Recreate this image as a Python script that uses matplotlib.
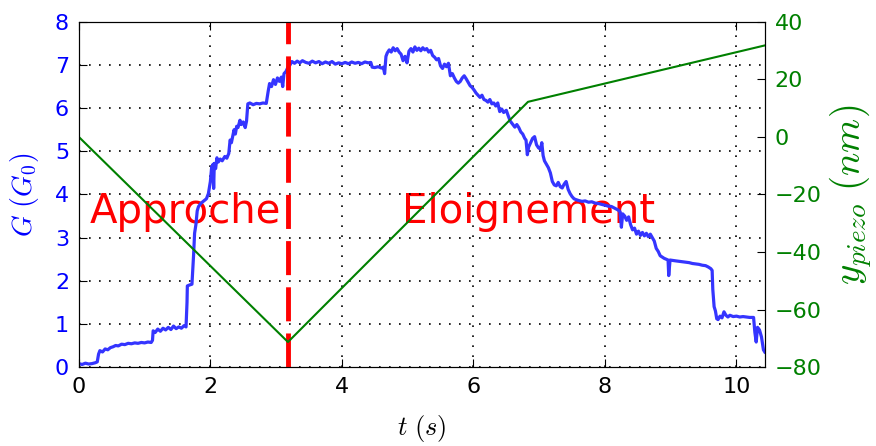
import matplotlib
matplotlib.use('Agg')
import matplotlib.pyplot as plt

plt.rcParams['mathtext.fontset'] = 'cm'

# conductance trace
t = [0.00, 0.05, 0.10, 0.15, 0.20, 0.25, 0.28, 0.30, 0.32, 0.36, 0.40, 0.44, 0.48, 0.52,
     0.56, 0.60, 0.65, 0.70, 0.75, 0.80, 0.85, 0.90, 0.95, 1.00, 1.05, 1.10, 1.12, 1.13,
     1.16, 1.20, 1.24, 1.28, 1.32, 1.36, 1.40, 1.44, 1.48, 1.52, 1.56, 1.60, 1.63, 1.645,
     1.65, 1.68, 1.72, 1.745, 1.76, 1.78, 1.80, 1.82, 1.86, 1.90, 1.94, 1.97, 2.00, 2.02,
     2.03, 2.04, 2.05, 2.06, 2.08, 2.10, 2.12, 2.15, 2.18, 2.22, 2.25, 2.28, 2.30, 2.32,
     2.34, 2.36, 2.38, 2.40, 2.42, 2.45, 2.47, 2.50, 2.53, 2.55, 2.57, 2.60, 2.65, 2.70,
     2.75, 2.80, 2.85, 2.88, 2.90, 2.93, 2.96, 2.99, 3.02, 3.05, 3.08, 3.10, 3.12, 3.15,
     3.18, 3.21, 3.24, 3.28, 3.32, 3.36, 3.40, 3.45, 3.50, 3.55, 3.60, 3.65, 3.70, 3.75,
     3.80, 3.85, 3.90, 3.95, 4.00, 4.05, 4.10, 4.15, 4.20, 4.25, 4.30, 4.35, 4.40, 4.44,
     4.46, 4.50, 4.55, 4.60, 4.63, 4.65, 4.67, 4.69, 4.72, 4.75, 4.78, 4.81, 4.84, 4.87,
     4.90, 4.93, 4.96, 4.99, 5.02, 5.05, 5.08, 5.11, 5.14, 5.17, 5.20, 5.23, 5.26, 5.29,
     5.32, 5.35, 5.38, 5.41, 5.44, 5.47, 5.50, 5.53, 5.56, 5.59, 5.62, 5.65, 5.68, 5.71,
     5.74, 5.77, 5.80, 5.83, 5.86, 5.89, 5.92, 5.95, 5.98, 6.01, 6.04, 6.07, 6.10, 6.13,
     6.16, 6.19, 6.22, 6.25, 6.28, 6.31, 6.34, 6.37, 6.40, 6.43, 6.46, 6.50, 6.53, 6.56,
     6.60, 6.63, 6.66, 6.69, 6.72, 6.75, 6.78, 6.80, 6.82, 6.84, 6.87, 6.90, 6.93, 6.96,
     6.99, 7.02, 7.04, 7.06, 7.08, 7.11, 7.14, 7.17, 7.20, 7.23, 7.26, 7.29, 7.32, 7.35,
     7.38, 7.41, 7.44, 7.47, 7.50, 7.53, 7.56, 7.60, 7.65, 7.70, 7.75, 7.80, 7.85, 7.90,
     7.95, 8.00, 8.05, 8.10, 8.15, 8.20, 8.23, 8.25, 8.27, 8.30, 8.33, 8.36, 8.39, 8.42,
     8.45, 8.48, 8.51, 8.54, 8.57, 8.60, 8.63, 8.66, 8.69, 8.72, 8.75, 8.78, 8.81, 8.84,
     8.87, 8.90, 8.93, 8.96, 8.97, 8.99, 9.03, 9.08, 9.13, 9.18, 9.23, 9.28, 9.33, 9.38,
     9.43, 9.48, 9.53, 9.57, 9.61, 9.63, 9.64, 9.66, 9.68, 9.70, 9.72, 9.75, 9.78, 9.81,
     9.84, 9.87, 9.90, 9.95, 10.00, 10.05, 10.10, 10.15, 10.20, 10.26, 10.28, 10.30, 10.32,
     10.35, 10.38, 10.41, 10.43]
G = [0.08, 0.06, 0.09, 0.07, 0.08, 0.10, 0.12, 0.30, 0.38, 0.35, 0.42, 0.40, 0.45, 0.47,
     0.50, 0.49, 0.53, 0.52, 0.55, 0.54, 0.56, 0.55, 0.57, 0.56, 0.58, 0.57, 0.62, 0.84,
     0.80, 0.88, 0.83, 0.90, 0.86, 0.92, 0.87, 0.95, 0.89, 0.93, 0.90, 0.96, 0.93, 1.50,
     1.88, 1.90, 1.92, 2.60, 3.10, 3.30, 3.62, 3.72, 3.80, 3.85, 3.90, 4.02, 4.30, 4.64,
     4.40, 4.70, 4.14, 4.72, 4.60, 4.85, 4.75, 4.82, 4.78, 4.88, 4.84, 4.95, 5.26, 5.20,
     5.35, 5.50, 5.40, 5.58, 5.55, 5.72, 5.62, 5.68, 5.55, 5.70, 6.10, 6.12, 6.08, 6.11,
     6.10, 6.12, 6.11, 6.40, 6.57, 6.50, 6.66, 6.55, 6.70, 6.62, 6.72, 6.50, 6.80, 6.85,
     6.95, 7.00, 7.08, 7.04, 7.09, 7.05, 7.10, 7.06, 7.04, 7.09, 7.05, 7.08, 7.03, 7.07,
     7.04, 7.08, 7.02, 7.05, 7.03, 7.06, 7.03, 7.07, 7.04, 7.06, 7.03, 7.07, 7.05, 7.06,
     6.95, 6.94, 6.96, 6.93, 6.95, 6.80, 7.20, 7.28, 7.35, 7.30, 7.40, 7.33, 7.38, 7.30,
     7.25, 7.10, 7.20, 7.05, 7.32, 7.38, 7.30, 7.42, 7.34, 7.39, 7.33, 7.40, 7.35, 7.38,
     7.30, 7.34, 7.22, 7.18, 7.12, 7.15, 6.98, 6.92, 7.02, 6.96, 7.04, 6.75, 6.80, 6.70,
     6.62, 6.58, 6.62, 6.70, 6.75, 6.68, 6.60, 6.52, 6.48, 6.42, 6.35, 6.30, 6.25, 6.30,
     6.20, 6.18, 6.14, 6.20, 6.10, 6.12, 6.05, 6.12, 5.92, 5.98, 5.90, 5.95, 5.82, 5.70,
     5.62, 5.56, 5.62, 5.55, 5.45, 5.40, 5.30, 5.26, 4.92, 5.10, 5.20, 5.30, 5.34, 5.15,
     5.08, 5.05, 5.20, 4.90, 4.78, 4.70, 4.62, 4.50, 4.30, 4.22, 4.20, 4.28, 4.18, 4.15,
     4.24, 4.30, 4.12, 4.02, 3.95, 3.90, 3.88, 3.86, 3.84, 3.85, 3.82, 3.83, 3.80, 3.79,
     3.77, 3.75, 3.73, 3.72, 3.68, 3.64, 3.60, 3.24, 3.55, 3.50, 3.40, 3.48, 3.30, 3.18,
     3.22, 3.08, 3.15, 3.05, 3.12, 3.04, 3.10, 3.02, 3.08, 3.00, 2.92, 2.75, 2.68, 2.58,
     2.55, 2.52, 2.50, 2.48, 2.12, 2.48, 2.47, 2.46, 2.45, 2.44, 2.43, 2.42, 2.40, 2.39,
     2.38, 2.36, 2.35, 2.32, 2.28, 2.24, 1.80, 1.40, 1.30, 1.12, 1.10, 1.18, 1.14, 1.28,
     1.20, 1.16, 1.20, 1.17, 1.18, 1.16, 1.17, 1.16, 1.15, 1.15, 0.80, 0.58, 0.92,
     0.86, 0.70, 0.40, 0.35]

# piezo displacement
t_piezo = [0.0, 3.18, 3.66, 6.83, 10.43]
y_piezo = [0.0, -71.3, -60.3, 12.2, 31.8]

t_switch = 3.18

fig = plt.figure(figsize=(8.76, 4.46), dpi=100)
ax = fig.add_subplot(111)
fig.subplots_adjust(left=0.090, right=0.873, top=0.951, bottom=0.177)

ax.plot(t, G, color='#3535ff', lw=2.3, zorder=2)
ax.axvline(t_switch, color='r', lw=3.5, dashes=(7, 2.5), zorder=3)
ax.text(0.17, 3.33, 'Approche', color='r', fontsize=29, zorder=1)
ax.text(4.92, 3.33, 'Eloignement', color='r', fontsize=29, zorder=1)

ax.set_xlim(0, 10.43)
ax.set_ylim(0, 8)
ax.set_yticks(range(9))
ax.grid(True, color='k', linestyle=(0, (1, 5)), lw=1.2)
ax.set_xlabel(r'$t\ (s)$', fontsize=19, labelpad=12)
ax.set_ylabel(r'$G\ (G_0)$', fontsize=20, color='b', labelpad=10)
ax.tick_params(axis='both', direction='in', length=6, labelsize=16, pad=7, top=True)
ax.tick_params(axis='y', labelcolor='b')

ax2 = ax.twinx()
ax2.plot(t_piezo, y_piezo, color='g', lw=1.5)
ax2.set_ylim(-80, 40)
ax2.set_xlim(0, 10.43)
ax2.set_ylabel(r'$y_{piezo}\ (nm)$', fontsize=28, color='g', labelpad=4)
ax2.tick_params(axis='y', direction='in', length=6, labelsize=16, pad=7, labelcolor='g')

plt.savefig('out.png', dpi=100)
